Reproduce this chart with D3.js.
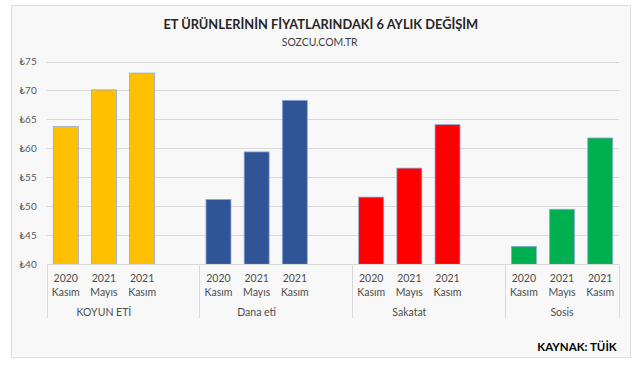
<!DOCTYPE html>
<html><head><meta charset="utf-8">
<script src="https://cdn.jsdelivr.net/npm/d3@7"></script>
<style>
html,body{margin:0;padding:0;background:#fff;}
svg{display:block;font-family:Lato,"Open Sans",sans-serif;}
</style></head>
<body>
<svg id="c" width="640" height="367"></svg>
<script>
const title = "ET ÜRÜNLERİNİN FİYATLARINDAKİ 6 AYLIK DEĞİŞİM";
const subtitle = "SOZCU.COM.TR";
const source = "KAYNAK: TÜİK";
const groups = ["KOYUN ETİ", "Dana eti", "Sakatat", "Sosis"];
const periodYears = ["2020", "2021", "2021"];
const periodMonths = ["Kasım", "Mayıs", "Kasım"];
const colors = ["#FFC000", "#2F5597", "#FF0000", "#00B050"];
const koyunEti = [63.8, 70.1, 73.0];
const danaEti = [51.2, 59.4, 68.3];
const sakatat = [51.6, 56.6, 64.1];
const sosis = [43.1, 49.5, 61.8];
const yTicks = [40, 45, 50, 55, 60, 65, 70, 75];
const seriesValues = [koyunEti, danaEti, sakatat, sosis];

const svg = d3.select("#c");
svg.append("rect").attr("x", 11.5).attr("y", 5.5).attr("width", 619).attr("height", 352)
  .attr("fill", "#f8f8f8").attr("stroke", "#dedede").attr("stroke-width", 1);

const slots = [];
groups.forEach((g, gi) => {
  periodMonths.forEach((m, pi) => slots.push({key: g + "|" + pi, g: gi, p: pi}));
  if (gi < groups.length - 1) slots.push({key: g + "|blank", g: gi, p: -1});
});
const x = d3.scaleBand().domain(slots.map(s => s.key)).range([46.7, 619.3])
  .paddingInner(0.345).paddingOuter(0.1725);
const y = d3.scaleLinear().domain([40, 75]).range([264.3, 61.5]);

svg.append("g").selectAll("line").data(yTicks.slice(1)).join("line")
  .attr("x1", 46.7).attr("x2", 619.3)
  .attr("y1", d => Math.round(y(d)) + 0.5).attr("y2", d => Math.round(y(d)) + 0.5)
  .attr("stroke", "#d9d9d9").attr("stroke-width", 1);

const yAxis = d3.axisLeft(y).tickValues(yTicks).tickFormat(d => "₺" + d).tickSize(0).tickPadding(10);
const ga = svg.append("g").attr("transform", "translate(46.7,0)").call(yAxis);
ga.select(".domain").remove();
ga.selectAll("text").attr("fill", "#595959").style("font-size", "10px")
  .style("font-family", "Lato, sans-serif");

const data = [];
slots.forEach(s => { if (s.p >= 0) data.push({key: s.key, g: s.g, p: s.p, v: seriesValues[s.g][s.p]}); });
svg.append("g").selectAll("rect").data(data).join("rect")
  .attr("x", d => x(d.key)).attr("width", x.bandwidth())
  .attr("y", d => y(d.v)).attr("height", d => y(40) - y(d.v))
  .attr("fill", d => colors[d.g]).attr("stroke", "#8EA9DB").attr("stroke-width", 0.8);

svg.append("line").attr("x1", 46.7).attr("x2", 619.3).attr("y1", 264.5).attr("y2", 264.5)
  .attr("stroke", "#d9d9d9");

const seps = groups.map((g, gi) => x(g + "|0") - (x.step() - x.bandwidth()) / 2);
seps.push(619.3);
svg.append("g").selectAll("line").data(seps).join("line")
  .attr("x1", d => Math.round(d) + 0.5).attr("x2", d => Math.round(d) + 0.5)
  .attr("y1", 264.5).attr("y2", 318).attr("stroke", "#d9d9d9");

const lab = svg.append("g").attr("fill", "#4d4d4d").style("font-size", "10.5px").attr("text-anchor", "middle");
data.forEach(d => {
  const cx = x(d.key) + x.bandwidth() / 2;
  lab.append("text").attr("x", cx).attr("y", 282).text(periodYears[d.p]);
  lab.append("text").attr("x", cx).attr("y", 295.5).text(periodMonths[d.p]);
});
groups.forEach((g, gi) => {
  const cx = (x(g + "|0") + x(g + "|2") + x.bandwidth()) / 2;
  lab.append("text").attr("x", cx).attr("y", 316).text(g);
});

function fit(sel, w) {
  const n = sel.node(); const l = n.getComputedTextLength();
  const fs = parseFloat(sel.style("font-size"));
  sel.style("font-size", (fs * w / l) + "px");
}
const t = svg.append("text").attr("x", 320.8).attr("y", 28.7).attr("text-anchor", "middle")
  .attr("fill", "#262626").style("font-weight", "bold").style("font-size", "14px").text(title);
fit(t, 315);
const st = svg.append("text").attr("x", 319.7).attr("y", 46.3).attr("text-anchor", "middle")
  .attr("fill", "#404040").style("font-size", "11px").text(subtitle);
fit(st, 76);
svg.append("text").attr("x", 616.7).attr("y", 351).attr("text-anchor", "end")
  .attr("fill", "#000").style("font-weight", "bold").style("font-size", "11.5px").text(source);
</script>
</body></html>
